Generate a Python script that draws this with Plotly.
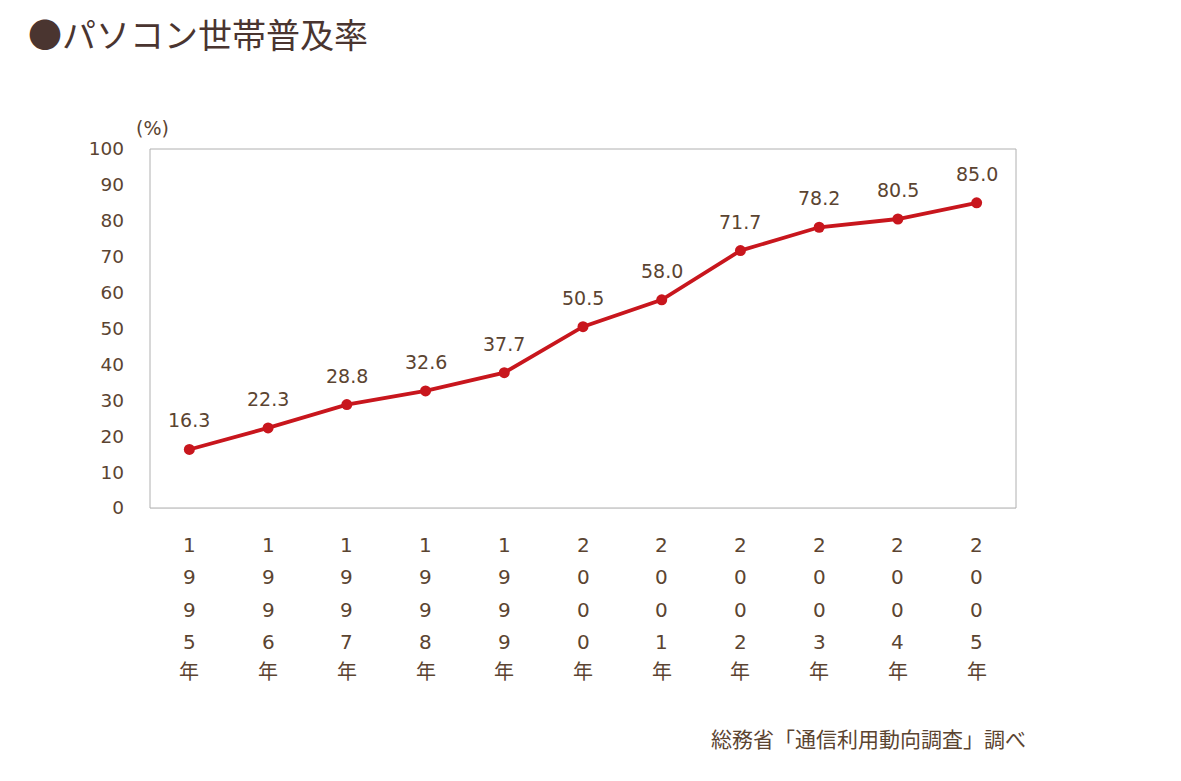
import plotly.graph_objects as go

years = ["1995", "1996", "1997", "1998", "1999", "2000", "2001", "2002", "2003", "2004", "2005"]
values = [16.3, 22.3, 28.8, 32.6, 37.7, 50.5, 58.0, 71.7, 78.2, 80.5, 85.0]
yticks = [0, 10, 20, 30, 40, 50, 60, 70, 80, 90, 100]

FONT = "DejaVu Sans, Noto Sans CJK JP"
JFONT = "Noto Sans CJK JP"
TXT = "#5b4431"
RED = "#c8161d"

fig = go.Figure()
fig.add_trace(go.Scatter(
    x=years, y=values, mode="lines+markers",
    line=dict(color=RED, width=3.8),
    marker=dict(color=RED, size=11),
    hoverinfo="skip", showlegend=False,
))

anns = []
for idx, (yr, v) in enumerate(zip(years, values)):
    anns.append(dict(x=idx, y=v, xref="x", yref="y", text=f"{v:.1f}", showarrow=False,
                     yshift=29, font=dict(family=FONT, size=19, color=TXT)))
    chars = list(yr) + ["年"]
    for i, ch in enumerate(chars):
        is_j = ch == "年"
        anns.append(dict(x=idx, y=0, xref="x", yref="paper", text=ch, showarrow=False,
                         yanchor="middle", yshift=-37 - 32.3 * i + (4 if is_j else 0),
                         font=dict(family=JFONT if is_j else FONT, size=20, color=TXT)))

anns.append(dict(x=0, y=1, xref="paper", yref="paper", text="(%)", showarrow=False,
                 xanchor="left", yanchor="bottom", xshift=-16, yshift=8,
                 font=dict(family=FONT, size=19, color=TXT)))
anns.append(dict(x=1, y=0, xref="paper", yref="paper", text="総務省「通信利用動向調査」調べ",
                 showarrow=False, xanchor="right", yanchor="middle",
                 xshift=12, yshift=-230, font=dict(family=JFONT, size=21, color=TXT)))

fig.update_layout(
    width=1181, height=781,
    margin=dict(l=150, r=165, t=149, b=273),
    paper_bgcolor="white", plot_bgcolor="white",
    title=dict(text="●パソコン世帯普及率", x=28 / 1181, xanchor="left",
               y=1 - 36 / 781, yanchor="middle",
               font=dict(family=JFONT, size=34, color="#4a3530")),
    xaxis=dict(type="category", range=[-0.5, 10.5], showticklabels=False,
               showgrid=False, showline=True, linecolor="#d0d0d0", linewidth=1,
               mirror=False, zeroline=False, fixedrange=True),
    yaxis=dict(range=[0, 100], tickvals=yticks, showgrid=False, zeroline=False,
               showline=False, ticklabelstandoff=25,
               tickfont=dict(family=FONT, size=18.5, color=TXT), fixedrange=True),
    annotations=anns,
    shapes=[dict(type="rect", xref="paper", yref="paper", x0=0, x1=1, y0=0, y1=1,
                 line=dict(color="#b0b0b0", width=1), layer="below")],
)
fig.write_html("out.html")
